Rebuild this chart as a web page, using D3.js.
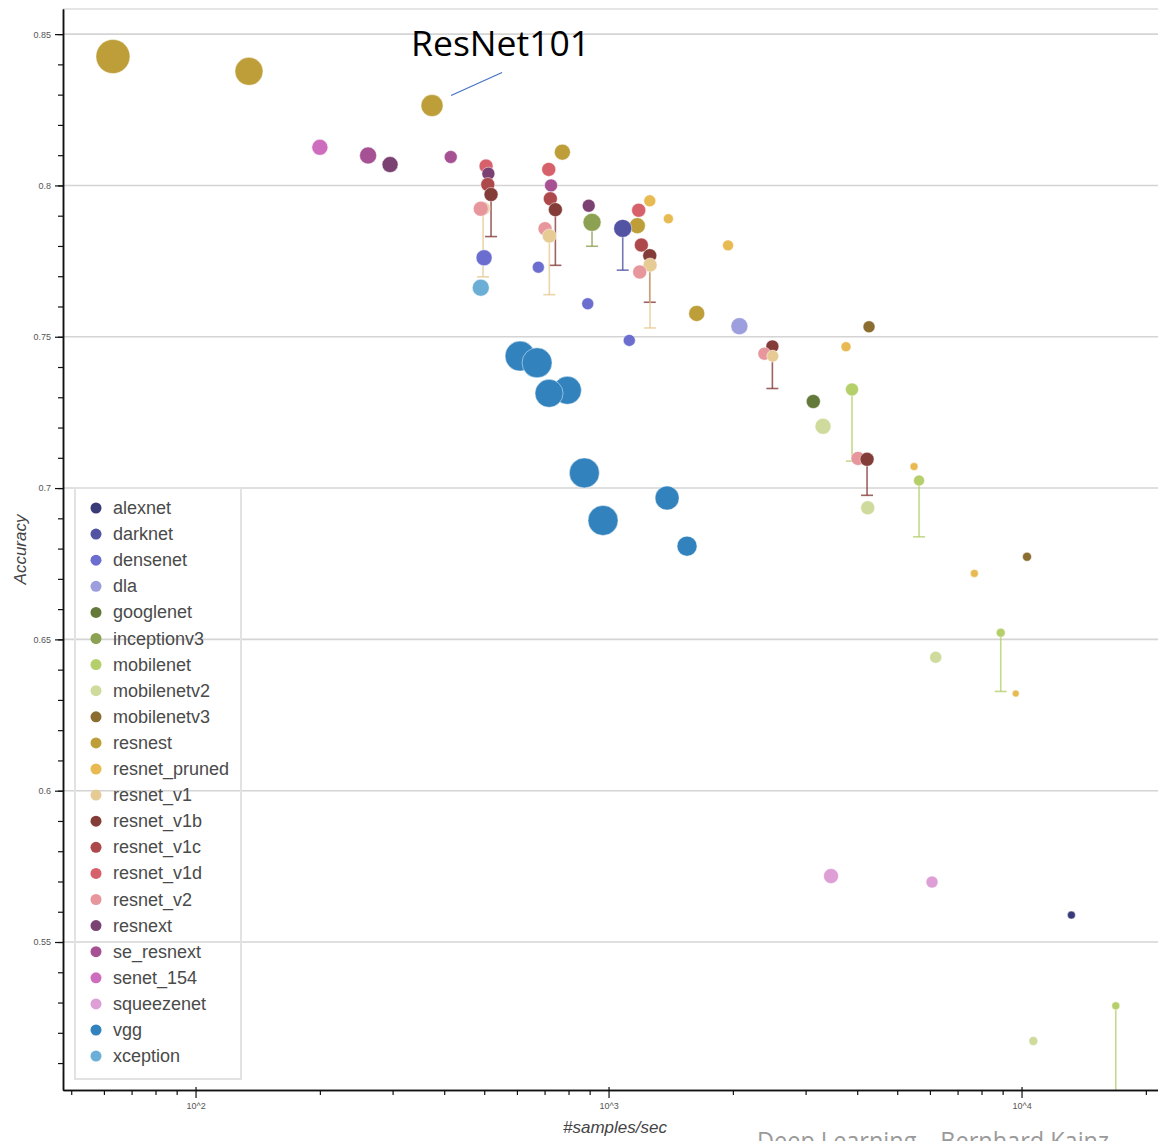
<!DOCTYPE html>
<html>
<head>
<meta charset="utf-8">
<script src="https://cdn.jsdelivr.net/npm/d3@7"></script>
<style>
  html, body { margin: 0; padding: 0; background: #fff; }
  svg { display: block; }
</style>
</head>
<body>
<svg id="chart" width="1158" height="1141"></svg>
<script>
// Model families, in legend order
const models = [
  "alexnet", "darknet", "densenet", "dla", "googlenet", "inceptionv3",
  "mobilenet", "mobilenetv2", "mobilenetv3", "resnest", "resnet_pruned",
  "resnet_v1", "resnet_v1b", "resnet_v1c", "resnet_v1d", "resnet_v2",
  "resnext", "se_resnext", "senet_154", "squeezenet", "vgg", "xception"
];

// Each row: family, throughput (#samples/sec), accuracy, relative model size,
// lower end of the accuracy range (null when there is none)
const points = [
  ["resnest", 63.1, 0.8426, 289, null],
  ["resnest", 134.7, 0.8377, 196, null],
  ["resnest", 373.8, 0.8264, 121, null],
  ["resnest", 773, 0.8110, 64, null],
  ["resnest", 1174, 0.7867, 64, null],
  ["resnest", 1635, 0.7577, 64, null],
  ["senet_154", 200, 0.8126, 64, null],
  ["se_resnext", 261.7, 0.8099, 72, null],
  ["se_resnext", 414.9, 0.8094, 42, null],
  ["se_resnext", 725.7, 0.8000, 42, null],
  ["resnext", 295.8, 0.8069, 64, null],
  ["resnext", 511.7, 0.8039, 42, null],
  ["resnext", 895.4, 0.7933, 42, null],
  ["resnet_v1d", 505.2, 0.8064, 49, null],
  ["resnet_v1d", 716.5, 0.8053, 49, null],
  ["resnet_v1d", 1183, 0.7918, 49, null],
  ["resnet_v1c", 510, 0.8003, 49, null],
  ["resnet_v1c", 722.9, 0.7956, 49, null],
  ["resnet_v1c", 1200.7, 0.7803, 49, null],
  ["resnet_v1b", 519.4, 0.7970, 49, 0.7831],
  ["resnet_v1b", 743.5, 0.7920, 49, 0.7736],
  ["resnet_v1b", 1258.4, 0.7768, 49, 0.7614],
  ["resnet_v1b", 2493, 0.7468, 42, 0.7329],
  ["resnet_v1b", 4226, 0.7095, 49, 0.6976],
  ["resnet_v2", 490.5, 0.7923, 56, null],
  ["resnet_v2", 701.9, 0.7857, 49, null],
  ["resnet_v2", 1190, 0.7714, 49, null],
  ["resnet_v2", 2384, 0.7444, 42, null],
  ["resnet_v2", 4019, 0.7098, 49, null],
  ["resnet_v1", 496.8, 0.7924, 49, 0.7698],
  ["resnet_v1", 718.9, 0.7833, 49, 0.7639],
  ["resnet_v1", 1260.5, 0.7737, 49, 0.7529],
  ["resnet_v1", 2498, 0.7436, 36, null],
  ["densenet", 499.6, 0.7761, 64, null],
  ["densenet", 676.1, 0.7730, 36, null],
  ["densenet", 890.5, 0.7609, 36, null],
  ["densenet", 1122.7, 0.7488, 36, null],
  ["xception", 490.5, 0.7662, 72, null],
  ["inceptionv3", 912, 0.7878, 81, 0.7799],
  ["darknet", 1082.3, 0.7858, 81, 0.7720],
  ["resnet_pruned", 1258.4, 0.7949, 36, null],
  ["resnet_pruned", 1396, 0.7890, 25, null],
  ["resnet_pruned", 1947, 0.7802, 30, null],
  ["resnet_pruned", 3758, 0.7467, 25, null],
  ["resnet_pruned", 5492, 0.7071, 16, null],
  ["resnet_pruned", 7687, 0.6718, 16, null],
  ["resnet_pruned", 9682, 0.6321, 12, null],
  ["dla", 2074, 0.7535, 72, null],
  ["mobilenetv3", 4273, 0.7533, 36, null],
  ["mobilenetv3", 10310, 0.6773, 20, null],
  ["googlenet", 3132, 0.7286, 49, null],
  ["mobilenetv2", 3306, 0.7204, 64, null],
  ["mobilenetv2", 4242, 0.6935, 49, null],
  ["mobilenetv2", 6197, 0.6441, 36, null],
  ["mobilenetv2", 10680, 0.5173, 20, null],
  ["mobilenet", 3886, 0.7326, 42, 0.7089],
  ["mobilenet", 5647, 0.7025, 30, 0.6839],
  ["mobilenet", 8905, 0.6522, 20, 0.6328],
  ["mobilenet", 16910, 0.5289, 16, 0.49],
  ["squeezenet", 3457, 0.5718, 56, null],
  ["squeezenet", 6071, 0.5698, 36, null],
  ["alexnet", 13205, 0.5589, 16, null],
  ["vgg", 610.7, 0.7436, 225, null],
  ["vgg", 671.2, 0.7414, 225, null],
  ["vgg", 717.7, 0.7313, 196, null],
  ["vgg", 794.9, 0.7323, 196, null],
  ["vgg", 873.8, 0.7050, 225, null],
  ["vgg", 969.8, 0.6893, 225, null],
  ["vgg", 1386, 0.6967, 144, null],
  ["vgg", 1549, 0.6808, 100, null]
];

// Axis ticks
const rateTicks = [100, 1000, 10000];
const rateTickLabels = ["10^2", "10^3", "10^4"];
const rateMinorTicks = [50, 60, 70, 80, 90, 200, 300, 400, 500, 600, 700, 800, 900,
  2000, 3000, 4000, 5000, 6000, 7000, 8000, 9000, 20000];
const accTicks = [0.55, 0.6, 0.65, 0.7, 0.75, 0.8, 0.85];
const accTickLabels = ["0.55", "0.6", "0.65", "0.7", "0.75", "0.8", "0.85"];
const accMinorTicks = d3.range(51, 86).map(v => v / 100);

// Highlighted model
const calloutLabel = "ResNet101";
const calloutIndex = 2;

const xTitle = "#samples/sec";
const yTitle = "Accuracy";
const footer = "Deep Learning \u2013 Bernhard Kainz";

// ---------------------------------------------------------------------------
const plotLeft = 63, plotRight = 1158, plotTop = 9, plotBottom = 1090;

const familyColors = [
  "#393b79", "#5254a3", "#6b6ecf", "#9c9ede", "#637939", "#8ca252",
  "#b5cf6b", "#cedb9c", "#8c6d31", "#bd9e39", "#e7ba52", "#e7cb94",
  "#843c39", "#ad494a", "#d6616b", "#e7969c", "#7b4173", "#a55194",
  "#ce6dbd", "#de9ed6", "#3182bd", "#6baed6"
];
const colors = d3.scaleOrdinal().domain(models).range(familyColors);

const x = d3.scaleLog().domain([47.76, 21400]).range([plotLeft, plotRight]);
const y = d3.scaleLinear().domain([0.5011, 0.8583]).range([plotBottom, plotTop]);
const r = d3.scaleSqrt().domain([0, 289]).range([0, 17]);

const svg = d3.select("#chart");
const tickFont = "'Liberation Sans', Arial, sans-serif";

svg.append("defs").append("clipPath").attr("id", "plot-clip")
  .append("rect").attr("x", plotLeft).attr("y", plotTop)
  .attr("width", plotRight - plotLeft).attr("height", plotBottom - plotTop);

// Grid lines and top frame
const grid = svg.append("g");
grid.selectAll("line.h").data(accTicks).join("line")
  .attr("x1", plotLeft).attr("x2", plotRight)
  .attr("y1", d => y(d)).attr("y2", d => y(d))
  .attr("stroke", "#d4d4d4").attr("stroke-width", 1.6);
grid.append("line")
  .attr("x1", plotLeft).attr("x2", plotRight).attr("y1", plotTop).attr("y2", plotTop)
  .attr("stroke", "#dcdcdc").attr("stroke-width", 1.6);

// Legend (drawn under the marks, transparent background)
const legend = svg.append("g");
legend.append("rect")
  .attr("x", 75).attr("y", 488).attr("width", 166).attr("height", 591)
  .attr("fill", "none").attr("stroke", "#e2e2e2").attr("stroke-width", 2);
const item = legend.selectAll("g.item").data(models).join("g")
  .attr("transform", (d, i) => `translate(0, ${508 + i * 26.1})`);
item.append("circle").attr("cx", 96).attr("cy", 0).attr("r", 5.5)
  .attr("fill", d => colors(d));
item.append("text").attr("x", 113).attr("y", 6)
  .attr("font-family", tickFont).attr("font-size", 18).attr("fill", "#4a4a4a")
  .text(d => d);

// Marks
const rows = points.map(([model, rate, acc, size, low]) => ({ model, rate, acc, size, low }));
const plot = svg.append("g").attr("clip-path", "url(#plot-clip)");

const bars = plot.append("g").selectAll("g").data(rows.filter(d => d.low !== null)).join("g")
  .attr("stroke", d => colors(d.model)).attr("stroke-opacity", 0.8).attr("stroke-width", 1.6);
bars.append("line")
  .attr("x1", d => x(d.rate)).attr("x2", d => x(d.rate))
  .attr("y1", d => y(d.acc)).attr("y2", d => y(d.low));
bars.append("line")
  .attr("x1", d => x(d.rate) - 6).attr("x2", d => x(d.rate) + 6)
  .attr("y1", d => y(d.low)).attr("y2", d => y(d.low));

// higher-accuracy marks first, so lower ones sit on top of them
plot.append("g").selectAll("circle")
  .data(d3.sort(rows, (a, b) => b.acc - a.acc))
  .join("circle")
  .attr("cx", d => x(d.rate)).attr("cy", d => y(d.acc)).attr("r", d => r(d.size))
  .attr("fill", d => colors(d.model))
  .attr("stroke", "#ffffff").attr("stroke-opacity", 0.6).attr("stroke-width", 0.8);

// Axes
const axisStyle = g => {
  g.select(".domain").attr("stroke", "#111").attr("stroke-width", 1.5);
  g.selectAll(".tick line").attr("stroke", "#111").attr("stroke-width", 1.2);
  g.selectAll(".tick text").attr("font-family", tickFont).attr("font-size", 9).attr("fill", "#555");
};

svg.append("g").attr("transform", `translate(0, ${plotBottom})`)
  .call(d3.axisBottom(x).tickValues(rateMinorTicks).tickFormat("").tickSize(5).tickSizeOuter(0))
  .call(axisStyle);
svg.append("g").attr("transform", `translate(0, ${plotBottom})`)
  .call(d3.axisBottom(x).tickValues(rateTicks)
    .tickFormat((d, i) => rateTickLabels[i]).tickSize(8).tickPadding(5).tickSizeOuter(0))
  .call(axisStyle)
  .call(g => g.selectAll(".tick line").attr("y1", -3));

svg.append("g").attr("transform", `translate(${plotLeft}, 0)`)
  .call(d3.axisLeft(y).tickValues(accMinorTicks).tickFormat("").tickSize(5).tickSizeOuter(0))
  .call(axisStyle);
svg.append("g").attr("transform", `translate(${plotLeft}, 0)`)
  .call(d3.axisLeft(y).tickValues(accTicks)
    .tickFormat((d, i) => accTickLabels[i]).tickSize(8).tickPadding(4).tickSizeOuter(0))
  .call(axisStyle);

// Axis titles
svg.append("text")
  .attr("transform", `translate(26, ${(plotTop + plotBottom) / 2}) rotate(-90)`)
  .attr("text-anchor", "middle")
  .attr("font-family", tickFont).attr("font-style", "italic")
  .attr("font-size", 17).attr("fill", "#444")
  .text(yTitle);
svg.append("text")
  .attr("x", 615).attr("y", 1133)
  .attr("text-anchor", "middle")
  .attr("font-family", tickFont).attr("font-style", "italic")
  .attr("font-size", 17).attr("fill", "#444")
  .text(xTitle);

// Callout for one model
const c = rows[calloutIndex];
const cx = x(c.rate), cy = y(c.acc);
svg.append("line")
  .attr("x1", cx + 19).attr("y1", cy - 10)
  .attr("x2", cx + 70).attr("y2", cy - 33)
  .attr("stroke", "#4472c4").attr("stroke-width", 1.2);
svg.append("text")
  .attr("x", cx - 21).attr("y", cy - 50)
  .attr("font-family", "'Open Sans', 'Noto Sans', sans-serif")
  .attr("font-size", 35).attr("fill", "#000")
  .attr("textLength", 179).attr("lengthAdjust", "spacingAndGlyphs")
  .text(calloutLabel);

// Footer
svg.append("text")
  .attr("x", 757).attr("y", 1150)
  .attr("font-family", "'Open Sans', 'Noto Sans', sans-serif")
  .attr("font-size", 25).attr("fill", "#9a9a9a")
  .attr("textLength", 352).attr("lengthAdjust", "spacingAndGlyphs")
  .text(footer);
</script>
</body>
</html>
